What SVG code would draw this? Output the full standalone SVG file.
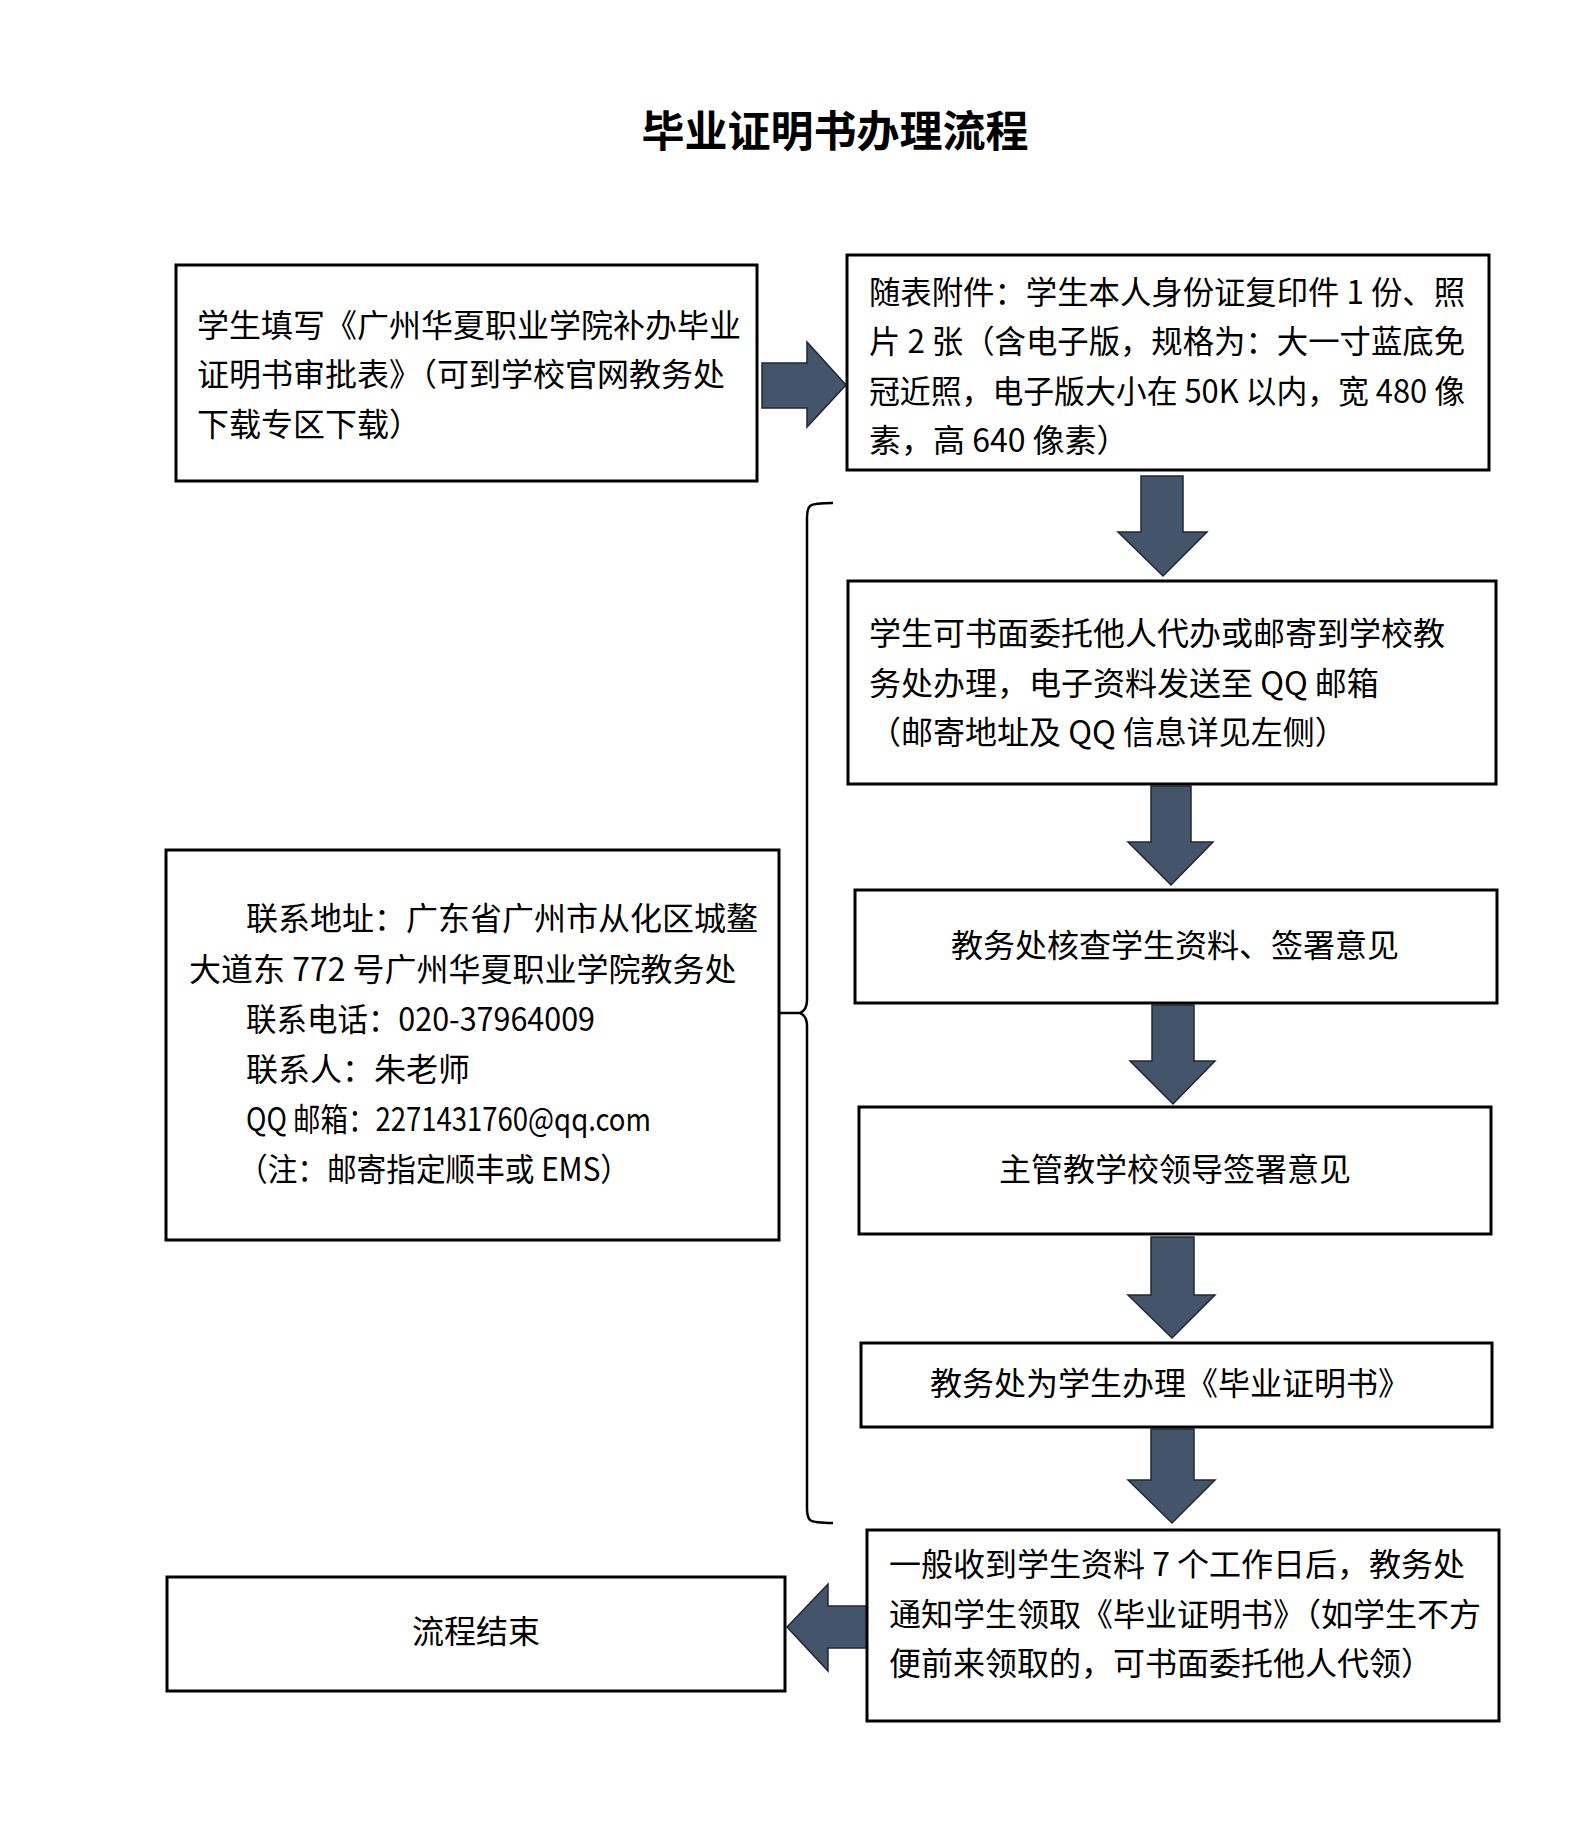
<svg xmlns="http://www.w3.org/2000/svg" width="1587" height="1832" viewBox="0 0 1587 1832">
<style>
.box{fill:#fff;stroke:#000;stroke-width:3}
.t{font-family:"Noto Sans CJK SC","Noto Sans CJK TC",sans-serif;font-size:32px;fill:#000}
.c{text-anchor:middle}
.title{font-family:"Noto Sans CJK SC",sans-serif;font-size:43px;font-weight:bold;fill:#000;text-anchor:middle}
.arrow{fill:#44546A;stroke:#1f2733;stroke-width:1.5;stroke-linejoin:miter}
.brace{fill:none;stroke:#000;stroke-width:2.5}
</style>
<rect width="1587" height="1832" fill="#fff"/>
<text class="title" x="835" y="147">毕业证明书办理流程</text>

<g id="connectors">
  <polygon class="arrow" points="762,363 807,363 807,342 846,385 807,427 807,408 762,408"/>
  <polygon class="arrow" points="1141,476 1183,476 1183,532 1207,532 1163,576 1118,532 1141,532"/>
  <polygon class="arrow" points="1151,786 1191,786 1191,842 1213,842 1171,885 1128,842 1151,842"/>
  <polygon class="arrow" points="1152,1005 1194,1005 1194,1061 1215,1061 1173,1104 1130,1061 1152,1061"/>
  <polygon class="arrow" points="1151,1237 1194,1237 1194,1295 1215,1295 1172,1338 1128,1295 1151,1295"/>
  <polygon class="arrow" points="1151,1429 1194,1429 1194,1480 1215,1480 1172,1523 1128,1480 1151,1480"/>
  <polygon class="arrow" points="868,1606 868,1648 828,1648 828,1671 787,1627 828,1584 828,1606"/>
  <path class="brace" d="M833,503 Q814,503 810,506 Q807,509 807,518 L807,1000 Q807,1010 800,1013 L773,1013 M800,1013 Q807,1016 807,1026 L807,1508 Q807,1517 810,1520 Q814,1523 833,1523"/>
</g>

<g id="node-apply">
  <rect class="box" x="176" y="265" width="581" height="216"/>
  <text class="t" x="197" y="337">学生填写《广州华夏职业学院补办毕业</text>
  <text class="t" x="197" y="386">证明书审批表》（可到学校官网教务处</text>
  <text class="t" x="197" y="436">下载专区下载）</text>
</g>

<g id="node-attach">
  <rect class="box" x="847" y="255" width="642" height="215"/>
  <text class="t" x="869" y="304" textLength="596" lengthAdjust="spacingAndGlyphs">随表附件：学生本人身份证复印件 1 份、照</text>
  <text class="t" x="869" y="353" textLength="596" lengthAdjust="spacingAndGlyphs">片 2 张（含电子版，规格为：大一寸蓝底免</text>
  <text class="t" x="869" y="403" textLength="596" lengthAdjust="spacingAndGlyphs">冠近照，电子版大小在 50K 以内，宽 480 像</text>
  <text class="t" x="869" y="452">素，高 640 像素）</text>
</g>

<g id="node-submit">
  <rect class="box" x="848" y="581" width="648" height="203"/>
  <text class="t" x="869" y="645">学生可书面委托他人代办或邮寄到学校教</text>
  <text class="t" x="869" y="695">务处办理，电子资料发送至 QQ 邮箱</text>
  <text class="t" x="869" y="744">（邮寄地址及 QQ 信息详见左侧）</text>
</g>

<g id="node-check">
  <rect class="box" x="855" y="890" width="642" height="113"/>
  <text class="t c" x="1175" y="957">教务处核查学生资料、签署意见</text>
</g>

<g id="node-leader">
  <rect class="box" x="859" y="1107" width="632" height="127"/>
  <text class="t c" x="1175" y="1181">主管教学校领导签署意见</text>
</g>

<g id="node-process">
  <rect class="box" x="861" y="1343" width="631" height="84"/>
  <text class="t c" x="1170" y="1395">教务处为学生办理《毕业证明书》</text>
</g>

<g id="node-notify">
  <rect class="box" x="867" y="1530" width="632" height="191"/>
  <text class="t" x="889" y="1576">一般收到学生资料 7 个工作日后，教务处</text>
  <text class="t" x="889" y="1626">通知学生领取《毕业证明书》（如学生不方</text>
  <text class="t" x="889" y="1675">便前来领取的，可书面委托他人代领）</text>
</g>

<g id="node-end">
  <rect class="box" x="167" y="1577" width="618" height="114"/>
  <text class="t c" x="476" y="1643">流程结束</text>
</g>

<g id="node-contact">
  <rect class="box" x="166" y="850" width="613" height="390"/>
  <text class="t" x="246" y="930">联系地址：广东省广州市从化区城鳌</text>
  <text class="t" x="189" y="981">大道东 772 号广州华夏职业学院教务处</text>
  <text class="t" x="246" y="1031" textLength="349" lengthAdjust="spacingAndGlyphs">联系电话：020-37964009</text>
  <text class="t" x="246" y="1081">联系人：朱老师</text>
  <text class="t" x="246" y="1131" textLength="405" lengthAdjust="spacingAndGlyphs">QQ 邮箱：2271431760@qq.com</text>
  <text class="t" x="238" y="1181" textLength="392" lengthAdjust="spacingAndGlyphs">（注：邮寄指定顺丰或 EMS）</text>
</g>
</svg>
